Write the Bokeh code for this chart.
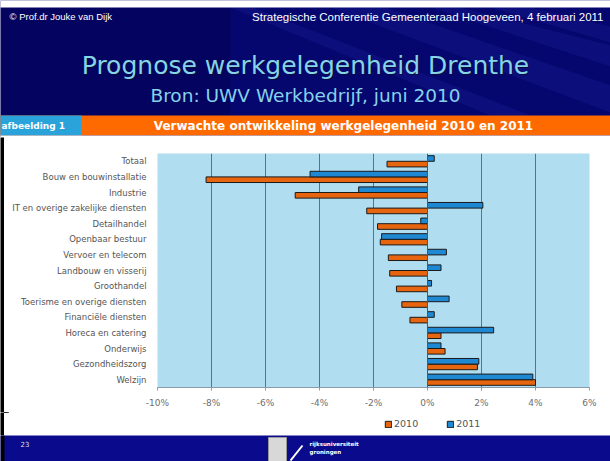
from bokeh.plotting import figure
from bokeh.models import Range1d, FactorRange, Span, Legend, LegendItem, FixedTicker, ColumnDataSource
from bokeh.transform import dodge
from bokeh.layouts import column, row
from bokeh.core.properties import value
from bokeh.embed import file_html
from bokeh.resources import INLINE

# ---------------- data ----------------
categories = ["Totaal", "Bouw en bouwinstallatie", "Industrie",
              "IT en overige zakelijke diensten", "Detailhandel", "Openbaar bestuur",
              "Vervoer en telecom", "Landbouw en visserij", "Groothandel",
              "Toerisme en overige diensten", "Financiële diensten", "Horeca en catering",
              "Onderwijs", "Gezondheidszorg", "Welzijn"]
v2010 = [-1.5, -8.2, -4.9, -2.25, -1.85, -1.75, -1.45, -1.4, -1.15, -0.95, -0.65, 0.5, 0.65, 1.85, 4.0]
v2011 = [0.25, -4.35, -2.55, 2.05, -0.25, -1.7, 0.7, 0.5, 0.15, 0.8, 0.25, 2.45, 0.5, 1.9, 3.9]
series = ["2010", "2011"]
x_ticks = [-10, -8, -6, -4, -2, 0, 2, 4, 6]
x_tick_labels = ["-10%", "-8%", "-6%", "-4%", "-2%", "0%", "2%", "4%", "6%"]

slide_author = "© Prof.dr Jouke van Dijk"
slide_event = "Strategische Conferentie Gemeenteraad Hoogeveen, 4 februari 2011"
slide_title = "Prognose werkgelegenheid Drenthe"
slide_subtitle = "Bron: UWV Werkbedrijf, juni 2010"
chart_label = "afbeelding 1"
chart_title = "Verwachte ontwikkeling werkgelegenheid 2010 en 2011"
page_number = "23"

# ---------------- styles ----------------
NAVY = "#06066f"
ORANGE = "#ff6a00"
C2010 = "#e8650f"
C2011 = "#1f88d2"
BAR_LINE = "#1a1a1a"
W = 610
SANS = value("Liberation Sans")
VERD = value("DejaVu Sans")


def bare(width, height, bg):
    fig = figure(width=width, height=height, x_range=Range1d(0, width), y_range=Range1d(height, 0),
                 x_axis_location=None, y_axis_location=None, min_border=0,
                 toolbar_location=None, output_backend="svg", outline_line_color=None,
                 background_fill_color=bg, border_fill_color=bg)
    fig.frame_align = False
    fig.grid.visible = False
    return fig


# ---------------- header ----------------
HH = 137
h = bare(W, HH, NAVY)
h.quad(left=0, right=230, top=7, bottom=115, fill_color="#000040", fill_alpha=0.3, line_color=None)
h.patches(xs=[[330, 385, 610, 610], [430, 460, 610, 610], [230, 252, 530, 490], [490, 530, 610, 610]],
          ys=[[7, 7, 85, 112], [7, 7, 45, 66], [7, 7, 115, 115], [7, 7, 26, 42]],
          fill_color="#3a52d8", fill_alpha=0.12, line_color=None)
h.quad(left=-5, right=W + 5, top=-5, bottom=7, fill_color="white", line_color=None)
h.quad(left=-5, right=W + 5, top=115, bottom=135, fill_color=ORANGE, line_color=None)
h.quad(left=-5, right=81, top=115, bottom=135, fill_color="#2aa3da", line_color=None)
h.quad(left=-5, right=W + 5, top=135, bottom=HH + 1, fill_color="white", line_color=None)

h.text(x=[9], y=[16], text=[slide_author], text_color="white", text_font=SANS,
       text_font_size="9.5px", text_baseline="middle", text_align="left")
h.text(x=[603], y=[16], text=[slide_event], text_color="white", text_font=SANS,
       text_font_size="11.5px", text_baseline="middle", text_align="right")
h.text(x=[306], y=[66], text=[slide_title], text_color="#0a0a3a", text_font=VERD,
       text_font_size="25px", text_baseline="alphabetic", text_align="center")
h.text(x=[305], y=[65], text=[slide_title], text_color="#86d3ea", text_font=VERD,
       text_font_size="25px", text_baseline="alphabetic", text_align="center")
h.text(x=[305], y=[95], text=[slide_subtitle], text_color="#86d3ea", text_font=VERD,
       text_font_size="18.5px", text_baseline="alphabetic", text_align="center")
h.text(x=[1], y=[125], text=[chart_label], text_color="white", text_font=VERD,
       text_font_size="9px", text_font_style="bold", text_baseline="middle", text_align="left")
h.text(x=[343], y=[125], text=[chart_title], text_color="white", text_font=VERD,
       text_font_size="12px", text_font_style="bold", text_baseline="middle", text_align="center")

# ---------------- chart ----------------
CH = 275
src = ColumnDataSource(dict(cat=categories, v2010=v2010, v2011=v2011))
p = figure(width=W - 4, height=CH, x_range=Range1d(x_ticks[0], x_ticks[-1]),
           y_range=FactorRange(*reversed(categories)),
           toolbar_location=None, output_backend="svg",
           min_border_left=153, min_border_right=21, min_border_top=16, min_border_bottom=25,
           background_fill_color="#b1ddf0", border_fill_color="white", outline_line_color=None)
p.frame_align = False

p.xgrid.ticker = FixedTicker(ticks=[t for t in x_ticks if t not in (x_ticks[0], 0, x_ticks[-1])])
p.xgrid.grid_line_color = "#55758c"
p.xgrid.grid_line_width = 1
p.ygrid.visible = False

p.add_layout(Span(location=0, dimension="height", line_color="#4d5a66", line_width=1))

p.hbar(y=dodge("cat", -0.18, range=p.y_range), left=0, right="v2010", height=0.36,
       source=src, fill_color=C2010, line_color=BAR_LINE, line_width=1)
p.hbar(y=dodge("cat", 0.18, range=p.y_range), left=0, right="v2011", height=0.36,
       source=src, fill_color=C2011, line_color=BAR_LINE, line_width=1)

p.xaxis.ticker = FixedTicker(ticks=x_ticks)
p.xaxis.major_label_overrides = {t: l for t, l in zip(x_ticks, x_tick_labels)}
p.xaxis.axis_line_color = "#8c9bab"
p.xaxis.major_tick_line_color = "#8c9bab"
p.xaxis.major_tick_out = 3
p.xaxis.major_tick_in = 0
p.xaxis.minor_tick_line_color = None
p.xaxis.major_label_standoff = 7
p.xaxis.major_label_text_font = "DejaVu Sans"
p.xaxis.major_label_text_font_size = "9px"
p.xaxis.major_label_text_color = "#6e6e6e"

p.yaxis.axis_line_color = None
p.yaxis.major_tick_line_color = None
p.yaxis.minor_tick_line_color = None
p.yaxis.major_label_standoff = 5
p.yaxis.major_label_text_font = "DejaVu Sans"
p.yaxis.major_label_text_font_size = "8.5px"
p.yaxis.major_label_text_color = "#555555"

# ---------------- legend strip ----------------
# legend keys: the series bars again, parked below this strip's visible range
LH = 23
lg = bare(W - 4, LH, "white")
k10 = lg.hbar(y=value(-100), left=0, right="v2010", height=1, source=src,
              fill_color=C2010, line_color=BAR_LINE)
k11 = lg.hbar(y=value(-100), left=0, right="v2011", height=1, source=src,
              fill_color=C2011, line_color=BAR_LINE)
legend = Legend(items=[LegendItem(label=series[0], renderers=[k10], index=0),
                       LegendItem(label=series[1], renderers=[k11], index=0)],
                orientation="horizontal", location=(380, 6),
                background_fill_alpha=0, border_line_color=None,
                label_text_font="DejaVu Sans", label_text_font_size="9.5px",
                label_text_color="#555555", glyph_width=8, glyph_height=8,
                spacing=28, padding=2, margin=0, label_standoff=2, label_height=10)
lg.add_layout(legend)

edge1 = bare(4, CH, "black")
edge2 = bare(4, LH, "black")

# ---------------- footer ----------------
FH = 26
f = bare(W, FH, "#0a0a8c")
f.quad(left=0, right=4, top=-1, bottom=FH + 1, fill_color="black", line_color=None)
f.text(x=[20], y=[8], text=[page_number], text_color="#dddddd", text_font=VERD,
       text_font_size="7px", text_baseline="middle", text_align="left")
f.quad(left=268, right=286, top=2, bottom=27, fill_color="#d8d8d8", line_color="#999999")
f.segment(x0=[290], y0=[25], x1=[302], y1=[10], line_color="white", line_width=2)
f.text(x=[309, 309], y=[8, 16], text=["rijksuniversiteit", "groningen"], text_color="white",
       text_font=VERD, text_font_size="5.5px", text_font_style="bold",
       text_baseline="middle", text_align="left")

layout = column(h, row(edge1, p, spacing=0), row(edge2, lg, spacing=0), f, spacing=0)
open("out.html", "w").write(file_html(layout, INLINE))
